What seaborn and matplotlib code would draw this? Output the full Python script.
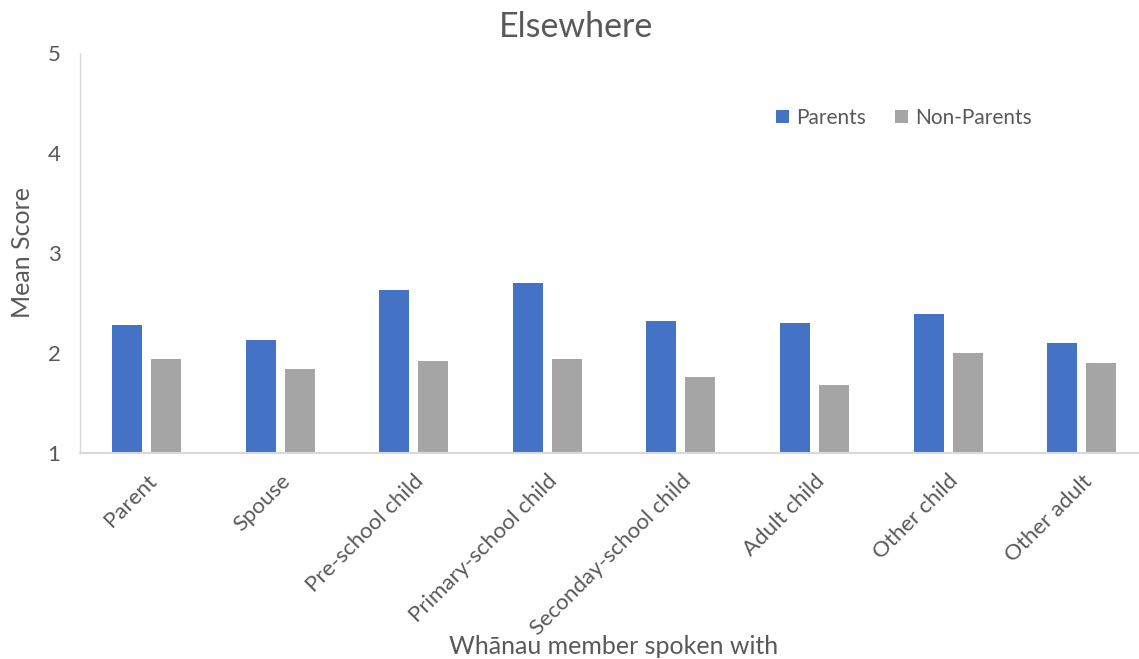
import matplotlib
matplotlib.use("Agg")
import matplotlib.pyplot as plt
import seaborn as sns
import pandas as pd

categories = ["Parent", "Spouse", "Pre-school child", "Primary-school child",
              "Seconday-school child", "Adult child", "Other child", "Other adult"]
parents = [2.28, 2.13, 2.63, 2.70, 2.32, 2.30, 2.39, 2.10]
non_parents = [1.94, 1.84, 1.92, 1.94, 1.76, 1.68, 2.00, 1.90]
series_names = ["Parents", "Non-Parents"]
colors = ["#4472C4", "#A5A5A5"]
yticks = [1, 2, 3, 4, 5]

df = pd.DataFrame({
    "member": categories * 2,
    "score": parents + non_parents,
    "group": [series_names[0]] * len(categories) + [series_names[1]] * len(categories),
})

sns.set_theme(style="white")
plt.rcParams["font.family"] = ["Lato", "DejaVu Sans"]
text_color = "#595959"

W, H = 1139, 659
fig = plt.figure(figsize=(W / 100, H / 100), dpi=100)
ax_left, ax_right, ax_top, ax_bottom = 80, 1139, 53, 453
ax = fig.add_axes([ax_left / W, 1 - ax_bottom / H, (ax_right - ax_left) / W, (ax_bottom - ax_top) / H])

sns.barplot(data=df, x="member", y="score", hue="group", order=categories,
            hue_order=series_names, palette=colors, width=0.584, gap=0.23,
            ax=ax, saturation=1, linewidth=0)

ax.set_ylim(1, 5)
ax.set_xlim(-0.5, 7.43)
ax.set_yticks(yticks)
ax.set_yticklabels([str(t) for t in yticks], fontsize=16, color=text_color)
ax.tick_params(axis="y", length=0, pad=14)
ax.tick_params(axis="x", length=0, pad=13)
ax.set_xticks(range(len(categories)))
ax.set_xticklabels(categories, rotation=45, ha="right", rotation_mode="anchor",
                   fontsize=16, color=text_color)

for s in ["top", "right"]:
    ax.spines[s].set_visible(False)
ax.spines["left"].set_color("#d9d9d9")
ax.spines["left"].set_linewidth(1)
ax.spines["bottom"].set_color("#d9d9d9")
ax.spines["bottom"].set_linewidth(1.5)
ax.grid(False)

ax.set_xlabel("Whānau member spoken with", fontsize=18, color=text_color)
ax.xaxis.set_label_coords(0.504, -0.455)
ax.set_ylabel("Mean Score", fontsize=18, color=text_color)
ax.yaxis.set_label_coords(-0.043, 0.5)

fig.text(576 / W, 1 - 27 / H, "Elsewhere", ha="center", va="center",
         fontsize=24.5, color=text_color)

leg = ax.legend(loc="center", bbox_to_anchor=(0.778, 0.838), ncol=2, frameon=False,
                fontsize=15, handlelength=0.6, handleheight=0.6, handletextpad=0.35,
                columnspacing=1.4)
for t in leg.get_texts():
    t.set_color(text_color)

fig.savefig("out.png", dpi=100)
